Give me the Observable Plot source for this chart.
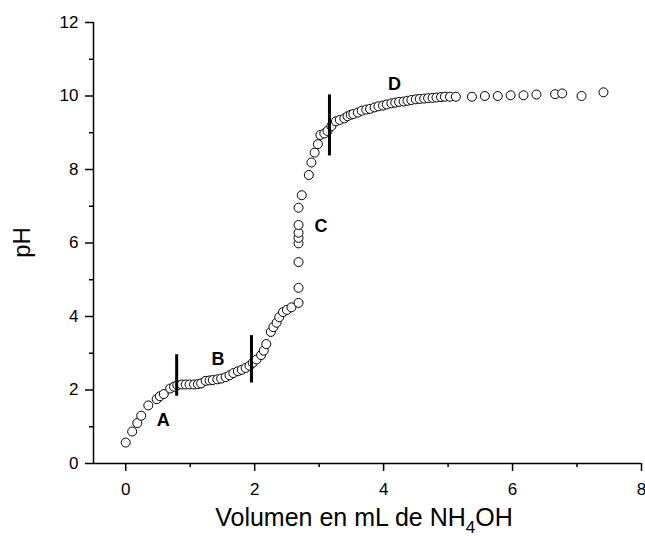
<!DOCTYPE html>
<html>
<head>
<meta charset="utf-8">
<script src="https://cdn.jsdelivr.net/npm/d3@7"></script>
<script src="https://cdn.jsdelivr.net/npm/@observablehq/plot@0.6"></script>
<style>
  body { margin: 0; background: #fff; }
  svg { display: block; }
</style>
</head>
<body>
<div id="chart"></div>
<script>
// Titration of an acid with NH4OH: volume added (mL) and measured pH
const volume = [
  0.00, 0.10, 0.18, 0.24, 0.35, 0.48, 0.53, 0.59, 0.69, 0.75,
  0.80, 0.87, 0.93, 0.99, 1.06, 1.12, 1.17, 1.24, 1.30, 1.35,
  1.42, 1.48, 1.55, 1.61, 1.67, 1.74, 1.80, 1.86, 1.92, 1.97,
  2.03, 2.10, 2.14, 2.18, 2.25, 2.29, 2.34, 2.38, 2.44, 2.50,
  2.57, 2.68, 2.68, 2.68, 2.68, 2.68, 2.68, 2.68, 2.68, 2.73,
  2.84, 2.88, 2.93, 2.98, 3.02, 3.08, 3.13, 3.19, 3.26, 3.32,
  3.39, 3.44, 3.49, 3.53, 3.60, 3.66, 3.73, 3.79, 3.86, 3.92,
  3.99, 4.05, 4.12, 4.18, 4.24, 4.31, 4.37, 4.43, 4.50, 4.56,
  4.63, 4.69, 4.76, 4.82, 4.89, 4.95, 5.03, 5.12, 5.37, 5.57,
  5.77, 5.97, 6.17, 6.37, 6.66, 6.77, 7.07, 7.41
];
const pH = [
  0.57, 0.87, 1.10, 1.30, 1.58, 1.75, 1.83, 1.89, 2.04, 2.09,
  2.13, 2.15, 2.15, 2.15, 2.15, 2.16, 2.18, 2.25, 2.26, 2.27,
  2.29, 2.31, 2.35, 2.40, 2.46, 2.51, 2.55, 2.60, 2.66, 2.74,
  2.83, 2.95, 3.07, 3.25, 3.58, 3.71, 3.83, 3.98, 4.12, 4.18,
  4.25, 4.37, 4.78, 5.48, 5.99, 6.14, 6.28, 6.49, 6.96, 7.30,
  7.85, 8.19, 8.46, 8.69, 8.94, 8.98, 9.05, 9.18, 9.31, 9.35,
  9.39, 9.45, 9.49, 9.51, 9.55, 9.60, 9.63, 9.65, 9.69, 9.72,
  9.74, 9.77, 9.80, 9.82, 9.84, 9.85, 9.87, 9.89, 9.91, 9.92,
  9.93, 9.94, 9.95, 9.96, 9.97, 9.98, 9.98, 9.98, 9.98, 10.00,
  10.00, 10.02, 10.02, 10.04, 10.05, 10.07, 10.00, 10.10
];

// Vertical bars separating the regions of the curve
const dividerVolume = [0.79, 1.95, 3.16];
const dividerLow = [1.83, 2.19, 8.37];
const dividerHigh = [2.96, 3.48, 10.03];

// Region letters
const regionName = ["A", "B", "C", "D"];
const regionVolume = [0.58, 1.43, 3.03, 4.17];
const regionPH = [1.19, 2.83, 6.46, 10.33];

// Axis ticks
const xMajor = [0, 2, 4, 6, 8];
const xMinor = [1, 3, 5, 7];
const yMajor = [0, 2, 4, 6, 8, 10, 12];
const yMinor = [1, 3, 5, 7, 9, 11];
const xDomain = [-0.5, 8];
const yDomain = [0, 12];

const points = volume.map((v, i) => ({volume: v, pH: pH[i]}));
const dividers = dividerVolume.map((v, i) => ({volume: v, low: dividerLow[i], high: dividerHigh[i]}));
const regions = regionName.map((n, i) => ({name: n, volume: regionVolume[i], pH: regionPH[i]}));

const font = "'Liberation Sans', Arial, Helvetica, sans-serif";

const chart = Plot.plot({
  width: 645,
  height: 536,
  marginLeft: 93,
  marginRight: 4,
  marginTop: 22,
  marginBottom: 73,
  x: {domain: xDomain},
  y: {domain: yDomain},
  style: {fontFamily: font, fontSize: "17px", color: "#000", background: "#fff"},
  marks: [
    Plot.axisX({ticks: xMajor, tickSize: 8, tickPadding: 11, strokeWidth: 1.5, label: null, fontSize: 17}),
    Plot.axisX({ticks: xMinor, tickSize: 4, strokeWidth: 1.5, text: null, label: null}),
    Plot.axisY({ticks: yMajor, tickSize: 8, tickPadding: 7, strokeWidth: 1.5, label: null, fontSize: 17}),
    Plot.axisY({ticks: yMinor, tickSize: 4, strokeWidth: 1.5, text: null, label: null}),
    Plot.ruleX([xDomain[0]], {y1: yDomain[0], y2: yDomain[1], stroke: "#000", strokeWidth: 1.5}),
    Plot.ruleY([yDomain[0]], {x1: xDomain[0], x2: xDomain[1], stroke: "#000", strokeWidth: 1.5}),
    Plot.dot(points, {x: "volume", y: "pH", r: 4.5, stroke: "#000", strokeWidth: 1, fill: "#fff"}),
    Plot.ruleX(dividers, {x: "volume", y1: "low", y2: "high", stroke: "#000", strokeWidth: 3}),
    Plot.text(regions, {x: "volume", y: "pH", text: "name", fontWeight: "bold", fontSize: 18, fill: "#000"})
  ]
});

// Axis titles (the x title needs a subscript, so they are added as SVG text)
const xs = chart.scale("x"), ys = chart.scale("y");
const svg = d3.select(chart);
const xTitle = svg.append("text")
  .attr("x", (xs.apply(xDomain[0]) + xs.apply(xDomain[1])) / 2 - 3)
  .attr("y", 526)
  .attr("text-anchor", "middle")
  .attr("font-family", font)
  .attr("font-size", 25)
  .attr("fill", "#000");
xTitle.append("tspan").text("Volumen en mL de NH");
xTitle.append("tspan").attr("font-size", 17).attr("dy", 7).text("4");
xTitle.append("tspan").attr("dy", -7).text("OH");

svg.append("text")
  .attr("transform", `translate(30,${(ys.apply(yDomain[0]) + ys.apply(yDomain[1])) / 2}) rotate(-90)`)
  .attr("text-anchor", "middle")
  .attr("font-family", font)
  .attr("font-size", 24)
  .attr("fill", "#000")
  .text("pH");

document.getElementById("chart").appendChild(chart);
</script>
</body>
</html>
